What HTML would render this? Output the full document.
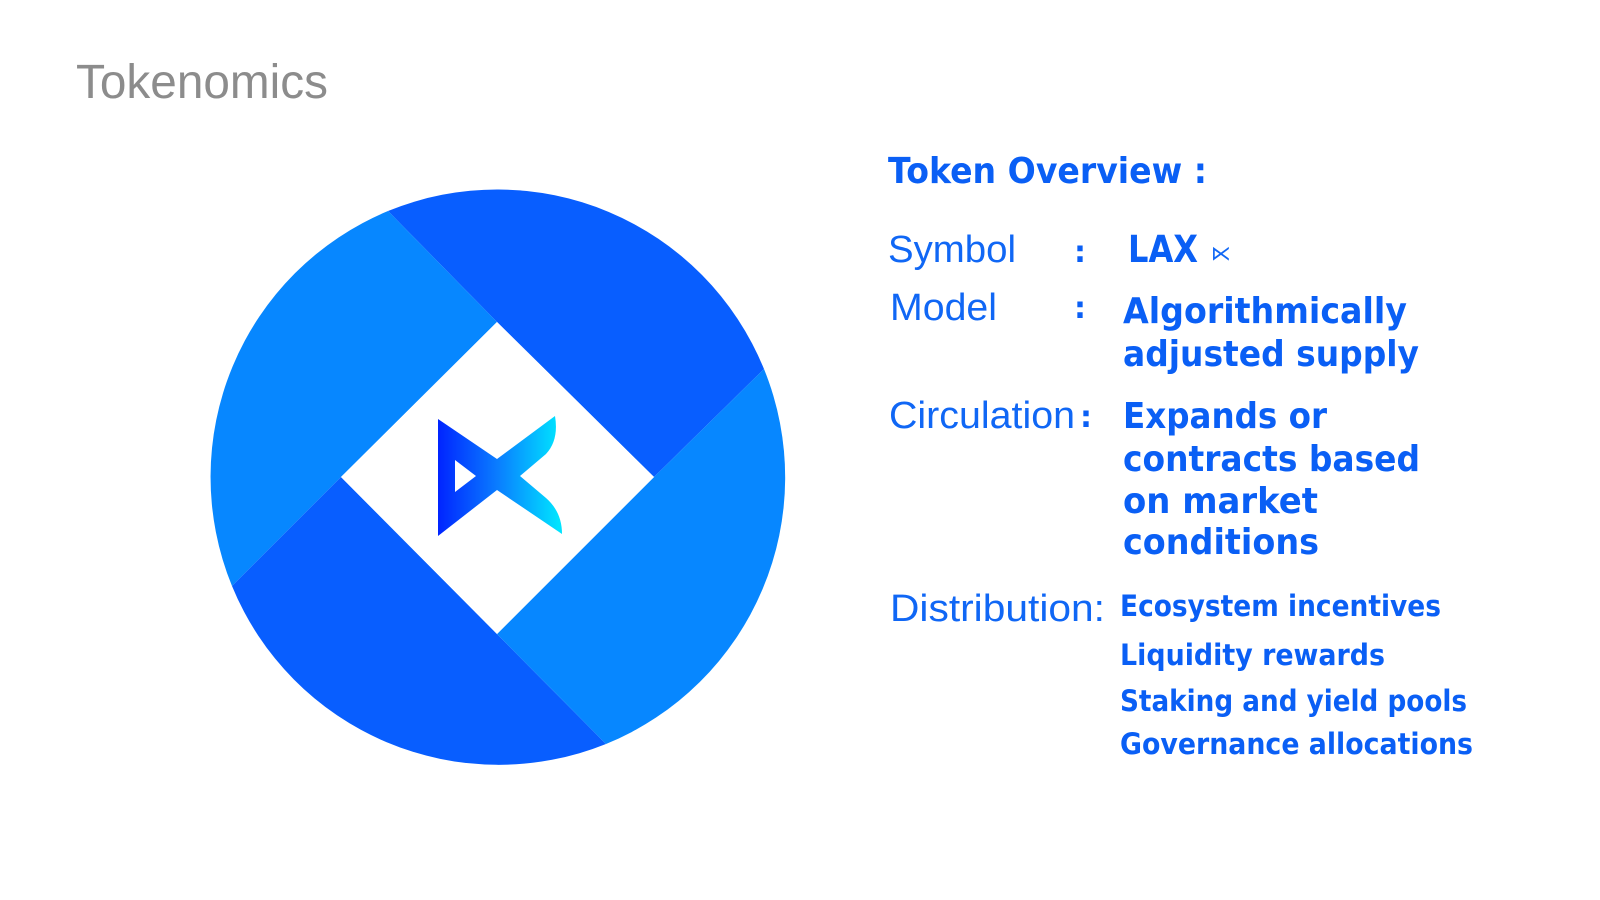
<!DOCTYPE html>
<html><head><meta charset="utf-8"><style>
html,body{margin:0;padding:0;background:#fff;width:1600px;height:900px;overflow:hidden}
svg{display:block}
.t{font-family:"Liberation Sans","DejaVu Sans",sans-serif;fill:#1067f5}
.b{font-family:"DejaVu Sans","Liberation Sans",sans-serif;font-weight:bold;fill:#0a5ff5}
</style></head><body>
<svg width="1600" height="900" viewBox="0 0 1600 900" xmlns="http://www.w3.org/2000/svg">
<defs>
<linearGradient id="g" x1="438" y1="0" x2="562" y2="0" gradientUnits="userSpaceOnUse">
<stop offset="0" stop-color="#0020ff"/><stop offset="0.5" stop-color="#0a7cff"/><stop offset="1" stop-color="#00e4ff"/>
</linearGradient>
</defs>
<text x="76" y="98" font-family="Liberation Sans,sans-serif" font-size="48" fill="#8c8c8c" textLength="252" lengthAdjust="spacingAndGlyphs">Tokenomics</text>

<g transform="translate(-3,-2)">
<path d="M391,213 A288,288 0 0 1 767,371 L657,479 L500,324 Z" fill="#085eff"/>
<path d="M235,588 A288,288 0 0 1 391,213 L500,324 L344,479 Z" fill="#0787ff"/>
<path d="M609,746 A288,288 0 0 1 235,588 L344,479 L500,636 Z" fill="#085eff"/>
<path d="M767,371 A288,288 0 0 1 609,746 L500,636 L657,479 Z" fill="#0787ff"/>
<path d="M500,324 L657,479 L500,636 L344,479 Z" fill="#fff"/>
<path fill-rule="evenodd" fill="url(#g)" d="M441,421 L500,461 L558,418 Q562,442 549,456 L523,478 L549,500 Q565,514 565,536 L500,492 L441,538 Z M458,462 L458,494 L479,478 Z"/>
</g>

<text class="b" x="888" y="183" font-size="36" textLength="319" lengthAdjust="spacingAndGlyphs">Token Overview :</text>

<text class="t" x="888" y="262" font-size="38" textLength="128" lengthAdjust="spacingAndGlyphs">Symbol</text>
<text class="b" x="1074" y="262" font-size="30">:</text>
<text class="b" x="1128" y="262" font-size="37" textLength="70" lengthAdjust="spacingAndGlyphs">LAX</text>
<text class="t" x="1211" y="260" font-size="20">⋉</text>

<text class="t" x="890" y="320" font-size="38" textLength="107" lengthAdjust="spacingAndGlyphs">Model</text>
<text class="b" x="1074" y="318" font-size="30">:</text>
<text class="b" x="1123" y="323" font-size="36" textLength="284" lengthAdjust="spacingAndGlyphs">Algorithmically</text>
<text class="b" x="1123" y="366" font-size="36" textLength="296" lengthAdjust="spacingAndGlyphs">adjusted supply</text>

<text class="t" x="889" y="428" font-size="38" textLength="186" lengthAdjust="spacingAndGlyphs">Circulation</text>
<text class="b" x="1080" y="427" font-size="30">:</text>
<text class="b" x="1123" y="428" font-size="36" textLength="204" lengthAdjust="spacingAndGlyphs">Expands or</text>
<text class="b" x="1123" y="471" font-size="36" textLength="297" lengthAdjust="spacingAndGlyphs">contracts based</text>
<text class="b" x="1123" y="513" font-size="36" textLength="195" lengthAdjust="spacingAndGlyphs">on market</text>
<text class="b" x="1123" y="554" font-size="36" textLength="196" lengthAdjust="spacingAndGlyphs">conditions</text>

<text class="t" x="890" y="621" font-size="38" textLength="215" lengthAdjust="spacingAndGlyphs">Distribution:</text>
<text class="b" x="1120" y="616" font-size="29" textLength="321" lengthAdjust="spacingAndGlyphs">Ecosystem incentives</text>
<text class="b" x="1120" y="665" font-size="29" textLength="265" lengthAdjust="spacingAndGlyphs">Liquidity rewards</text>
<text class="b" x="1120" y="711" font-size="29" textLength="347" lengthAdjust="spacingAndGlyphs">Staking and yield pools</text>
<text class="b" x="1120" y="754" font-size="29" textLength="353" lengthAdjust="spacingAndGlyphs">Governance allocations</text>
</svg>
</body></html>
